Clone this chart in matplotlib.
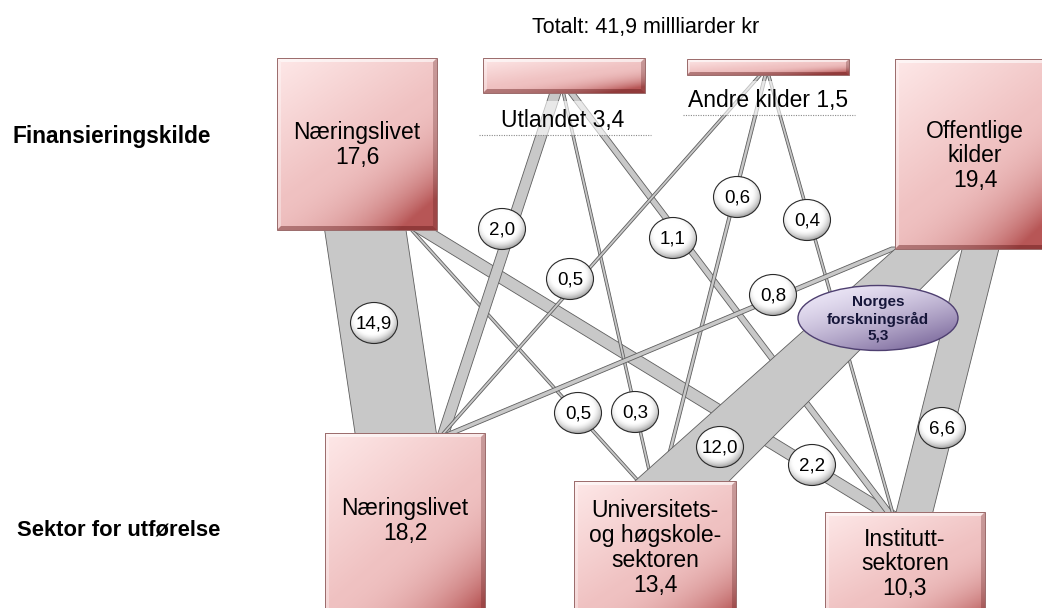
import numpy as np
import matplotlib
matplotlib.use("Agg")
import matplotlib.pyplot as plt
from matplotlib.patches import Polygon, Rectangle, Ellipse

plt.rcParams['font.family'] = ['Liberation Sans', 'DejaVu Sans']

# ---------------- data ----------------
title_text = "Totalt: 41,9 millliarder kr"
row_labels = ["Finansieringskilde", "Sektor for utførelse"]
source_names = ["Næringslivet", "Utlandet", "Andre kilder", "Offentlige\nkilder"]
source_values = [17.6, 3.4, 1.5, 19.4]
sector_names = ["Næringslivet", "Universitets-\nog høgskole-\nsektoren", "Institutt-\nsektoren"]
sector_values = [18.2, 13.4, 10.3]
# flows from each source to [Næringslivet, UoH-sektoren, Instituttsektoren]
flow_naeringslivet = [14.9, 0.5, 2.2]
flow_utlandet = [2.0, 0.3, 1.1]
flow_andre = [0.5, 0.6, 0.4]
flow_offentlige = [0.8, 12.0, 6.6]
nfr_name = "Norges\nforskningsråd"
nfr_value = 5.3

flows = [flow_naeringslivet, flow_utlandet, flow_andre, flow_offentlige]

def fmt(v):
    return f"{v:.1f}".replace(".", ",")

# ---------------- layout ----------------
W, H = 1042, 608
SRC_BOX = [(277, 58, 437, 230), (483, 58, 645, 93), (687, 59, 849, 75), (895, 59, 1055, 249)]
DST_BOX = [(325, 433, 485, 640), (574, 481, 736, 640), (825, 512, 985, 640)]
SRC_TEXT = [(357, 145, 'box'), (563, 120, 'below'), (768, 100, 'below'), (975, 156, 'box')]
DST_TEXT = [(405, 521), (655, 548), (905, 564)]
# (x at source, x at sector, bubble x, bubble y, taper at source end, flare at sector end)
FLOW_LAYOUT = {
    (0, 0): (365, 396, 374, 323, 1.0, 1.0),
    (0, 1): (410, 640, 578, 413, 1.0, 1.0),
    (0, 2): (420, 888, 812, 465, 1.0, 1.0),
    (1, 0): (556, 443, 502, 229, 1.0, 1.0),
    (1, 1): (563, 652, 635, 412, 1.0, 1.0),
    (1, 2): (570, 890, 673, 238, 1.0, 1.0),
    (2, 0): (762, 442, 570, 279, 1.0, 1.0),
    (2, 1): (766, 662, 737, 197, 1.0, 1.0),
    (2, 2): (768, 893, 807, 220, 1.0, 1.0),
    (3, 0): (897, 447, 773, 295, 1.0, 1.0),
    (3, 1): (930, 680, 720, 447, 0.69, 1.0),
    (3, 2): (981, 914, 942, 428, 1.0, 1.0),
}
K = 5.4          # px per milliard (perpendicular band width)
MIN_W = 2.6
NFR_POS = (878, 318, 160, 65)

fig = plt.figure(figsize=(W / 100, H / 100), dpi=100)
ax = fig.add_axes([0, 0, 1, 1])
ax.set_xlim(0, W)
ax.set_ylim(H, 0)
ax.axis('off')

STOPS = np.array([[0.995, 0.91, 0.91], [0.94, 0.76, 0.76], [0.72, 0.34, 0.34]])


def grad_rect(x0, y0, x1, y1, z, bevel=4):
    n = 120
    u = np.linspace(0, 1, n)
    U, V = np.meshgrid(u, u)
    t = np.clip(0.4 * U + 0.6 * V, 0, 1)
    t = np.clip(t + 0.2 * (U * V) ** 3, 0, 1)
    t1 = np.clip(t / 0.5, 0, 1)[..., None]
    t2 = np.clip((t - 0.5) / 0.5, 0, 1)[..., None] ** 1.8
    arr = STOPS[0] * (1 - t1) + STOPS[1] * t1
    arr = arr * (1 - t2) + STOPS[2] * t2
    ax.imshow(arr, extent=(x0, x1, y1, y0), zorder=z, aspect='auto', interpolation='bilinear')
    b = bevel
    ax.add_patch(Polygon([(x0, y0), (x1, y0), (x1 - b, y0 + b), (x0 + b, y0 + b)],
                         fc='white', alpha=0.6, ec='none', zorder=z + 0.1))
    ax.add_patch(Polygon([(x0, y0), (x0 + b, y0 + b), (x0 + b, y1 - b), (x0, y1)],
                         fc='white', alpha=0.35, ec='none', zorder=z + 0.1))
    ax.add_patch(Polygon([(x0, y1), (x0 + b, y1 - b), (x1 - b, y1 - b), (x1, y1)],
                         fc='#5a1010', alpha=0.4, ec='none', zorder=z + 0.1))
    ax.add_patch(Polygon([(x1, y0), (x1, y1), (x1 - b, y1 - b), (x1 - b, y0 + b)],
                         fc='#5a2020', alpha=0.28, ec='none', zorder=z + 0.1))
    ax.add_patch(Rectangle((x0, y0), x1 - x0, y1 - y0, fc='none', ec='#9a6a6a',
                           lw=0.7, zorder=z + 0.2))


def band(x0, y0, x1, y1, w0, w1, z=2):
    dx, dy = x1 - x0, y1 - y0
    L = np.hypot(dx, dy)
    f = L / abs(dy)
    h0, h1 = w0 * f / 2, w1 * f / 2
    poly = Polygon([(x0 - h0, y0), (x0 + h0, y0), (x1 + h1, y1), (x1 - h1, y1)],
                   closed=True, fc='#c8c8c8', ec='#5e5e5e', lw=0.6, zorder=z)
    ax.add_patch(poly)


def bubble(cx, cy, text, z=5):
    a, bb = 23.5, 20.5
    n = 90
    xs = np.linspace(-1, 1, n)
    X, Y = np.meshgrid(xs, xs)
    R = np.sqrt((X + 0.1) ** 2 + (Y + 0.18) ** 2)
    shade = 1 - 0.38 * np.clip((R - 0.72) / 0.5, 0, 1) ** 1.6
    arr = np.dstack([shade, shade, shade])
    im = ax.imshow(arr, extent=(cx - a, cx + a, cy + bb, cy - bb), zorder=z,
                   aspect='auto', interpolation='bilinear')
    e = Ellipse((cx, cy), 2 * a, 2 * bb, fc='none', ec='#2a2a2a', lw=0.8, zorder=z + 0.1)
    ax.add_patch(e)
    im.set_clip_path(e)
    ax.text(cx, cy + 1, text, ha='center', va='center', fontsize=13.5, zorder=z + 0.2)


# ---------------- flows ----------------
for i, row in enumerate(flows):
    for j, v in enumerate(row):
        xs, xd, bx, by, taper, flare = FLOW_LAYOUT[(i, j)]
        ys = SRC_BOX[i][3]
        yd = DST_BOX[j][1]
        w = max(K * v, MIN_W)
        band(xs, ys - 2, xd, yd + 2, w * taper, w * flare)

# label covers for the thin source bars
for i in (1, 2):
    x0, y0, x1, y1 = SRC_BOX[i]
    tx, ty, _ = SRC_TEXT[i]
    cov = Rectangle((x0 - 4, ty - 19), (x1 - x0) + 10, 34, fc='white', alpha=0.6,
                    ec='none', zorder=3)
    ax.add_patch(cov)
    ax.plot([x0 - 4, x1 + 6], [ty + 15, ty + 15], ls=(0, (1, 1.2)), color='#8a8a8a',
            lw=0.8, zorder=3.1)

# ---------------- boxes ----------------
for i, (x0, y0, x1, y1) in enumerate(SRC_BOX):
    grad_rect(x0, y0, x1, y1, z=4, bevel=4 if (y1 - y0) > 25 else 3)
    tx, ty, mode = SRC_TEXT[i]
    if mode == 'box':
        ax.text(tx, ty, f"{source_names[i]}\n{fmt(source_values[i])}", ha='center',
                va='center', fontsize=16.5, zorder=4.5, linespacing=1.08)
    else:
        ax.text(tx, ty, f"{source_names[i]} {fmt(source_values[i])}", ha='center',
                va='center', fontsize=16.5, zorder=4.5)

for j, (x0, y0, x1, y1) in enumerate(DST_BOX):
    grad_rect(x0, y0, x1, y1, z=4)
    tx, ty = DST_TEXT[j]
    ax.text(tx, ty, f"{sector_names[j]}\n{fmt(sector_values[j])}", ha='center',
            va='center', fontsize=16.5, zorder=4.5, linespacing=1.1)

# ---------------- bubbles ----------------
for i, row in enumerate(flows):
    for j, v in enumerate(row):
        xs, xd, bx, by, taper, flare = FLOW_LAYOUT[(i, j)]
        bubble(bx, by, fmt(v))

# ---------------- Norges forskningsråd ----------------
cx, cy, ew, eh = NFR_POS
n = 120
u = np.linspace(0, 1, n)
U, V = np.meshgrid(u, u)
t = np.clip((U * 0.55 + V * 0.8) / 1.35, 0, 1) ** 1.5
lav_l = np.array([0.94, 0.92, 0.98])
lav_d = np.array([0.42, 0.34, 0.56])
arr = lav_l[None, None, :] * (1 - t[..., None]) + lav_d[None, None, :] * t[..., None]
im = ax.imshow(arr, extent=(cx - ew / 2, cx + ew / 2, cy + eh / 2, cy - eh / 2), zorder=6,
               aspect='auto', interpolation='bilinear')
ell = Ellipse((cx, cy), ew, eh, fc='none', ec='#4e3f70', lw=1.0, zorder=6.1)
ax.add_patch(ell)
im.set_clip_path(ell)
ax.text(cx, cy + 1, f"{nfr_name}\n{fmt(nfr_value)}", ha='center', va='center',
        fontsize=11, fontweight='bold', color='#16163a', linespacing=1.2, zorder=6.2)

# ---------------- titles ----------------
ax.text(646, 27, title_text, ha='center', va='center', fontsize=15.5)
ax.text(13, 137, row_labels[0], ha='left', va='center', fontsize=16.3, fontweight='bold')
ax.text(17, 530, row_labels[1], ha='left', va='center', fontsize=15.8, fontweight='bold')

ax.set_xlim(0, W)
ax.set_ylim(H, 0)
fig.savefig("out.png", dpi=100)
